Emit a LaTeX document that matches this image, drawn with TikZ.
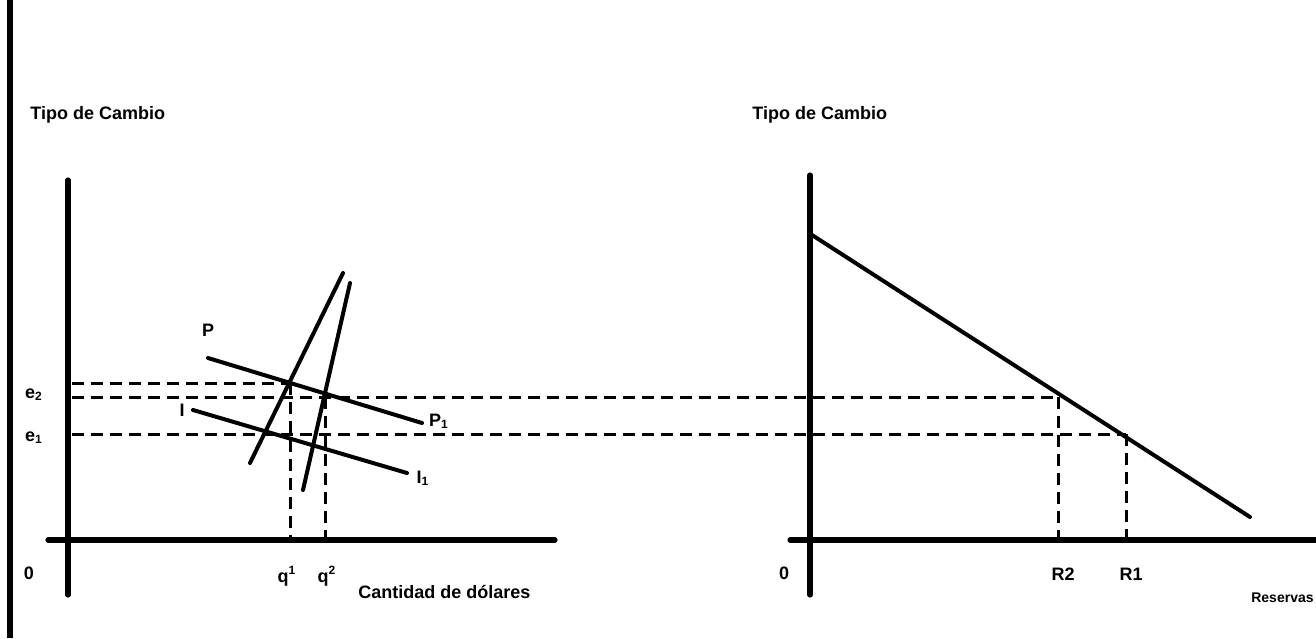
\documentclass[tikz,border=0pt]{standalone}
\usepackage{fontspec}
\setmainfont{Liberation Sans}
\begin{document}
\begin{tikzpicture}[x=0.5pt,y=-0.5pt,
  axis/.style={line width=2.6pt,line cap=round},
  curve/.style={line width=2pt,line cap=round},
  guide/.style={line width=1.5pt,dash pattern=on 6pt off 3.5pt},
  lbl/.style={font=\bfseries\fontsize{9}{10}\selectfont,inner sep=0pt}]
\useasboundingbox (0,0) rectangle (1316,638);
% scan border
\draw[line width=2.6pt] (10,0) -- (10,638);
% left panel
\node[lbl,anchor=west] (t1) at (30,115) {Tipo de Cambio};
\coordinate (ly0) at (68,180); \coordinate (ly1) at (68,595);
\coordinate (lx0) at (48,540); \coordinate (lx1) at (555,540);
\draw[axis] (ly0) -- (ly1);
\draw[axis] (lx0) -- (lx1);
\node[lbl] (o1) at (29,573) {0};
\node[lbl] (e2) at (34,395) {e\textsubscript{2}};
\node[lbl] (e1) at (34,438) {e\textsubscript{1}};
\coordinate (a1) at (343,273); \coordinate (a2) at (250,463);
\coordinate (b1) at (350,283); \coordinate (b2) at (303,490);
\coordinate (p1) at (208,358); \coordinate (p2) at (422,423);
\coordinate (i1) at (193,410); \coordinate (i2) at (407,473);
\draw[curve] (a1) -- (a2);
\draw[curve] (b1) -- (b2);
\draw[curve] (p1) -- (p2);
\draw[curve] (i1) -- (i2);
\node[lbl] (P) at (208,330) {P};
\node[lbl] (P1) at (439,421) {P\textsubscript{1}};
\node[lbl] (I) at (182,410) {I};
\node[lbl] (I1) at (423,478) {I\textsubscript{1}};
\coordinate (q1top) at (290,383); \coordinate (q1bot) at (290,540);
\coordinate (q2top) at (325,397); \coordinate (q2bot) at (325,540);
\draw[guide] (72,383) -- (q1top);
\draw[guide] (q1top) -- (q1bot);
\draw[guide] (q2top) -- (q2bot);
\node[lbl] (q1) at (287,576) {q\textsuperscript{1}};
\node[lbl] (q2) at (327,576) {q\textsuperscript{2}};
\node[lbl,anchor=west] (xl1) at (358,592) {Cantidad de dólares};
% right panel
\node[lbl,anchor=west] (t2) at (752,115) {Tipo de Cambio};
\coordinate (ry0) at (810,175); \coordinate (ry1) at (810,595);
\coordinate (rx0) at (790,540); \coordinate (rx1) at (1316,540);
\draw[axis] (ry0) -- (ry1);
\draw[axis] (rx0) -- (rx1);
\node[lbl] (o2) at (784,573) {0};
\coordinate (d1) at (812,235); \coordinate (d2) at (1250,517);
\draw[curve] (d1) -- (d2);
\coordinate (r2top) at (1058,397); \coordinate (r2bot) at (1058,540);
\coordinate (r1top) at (1126,434); \coordinate (r1bot) at (1126,540);
\draw[guide] (72,397) -- (r2top);
\draw[guide] (72,434) -- (r1top);
\draw[guide] (r2top) -- (r2bot);
\draw[guide] (r1top) -- (r1bot);
\node[lbl] (R2) at (1063,574) {R2};
\node[lbl] (R1) at (1131,574) {R1};
\node[lbl,anchor=east,font=\bfseries\fontsize{7}{8}\selectfont] (xl2) at (1314,598) {Reservas};
\end{tikzpicture}
\end{document}
